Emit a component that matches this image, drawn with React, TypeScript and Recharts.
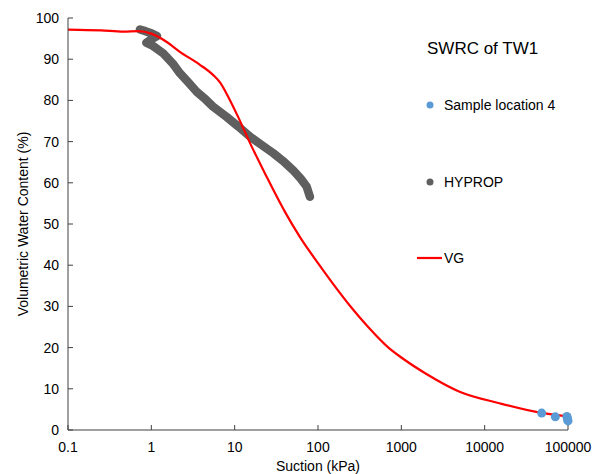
import { ComposedChart, Line, Scatter, XAxis, YAxis } from "recharts";

// suction (kPa) / volumetric water content (%)
const vgSuction = [
  0.1, 0.25, 0.46, 0.7, 1.0, 1.5, 2.2, 3.8, 5.5, 6.7, 8.5, 11, 15, 24, 40, 60,
  100, 150, 250, 400, 700, 1000, 2000, 5000, 15000, 46000, 100000,
];
const vgTheta = [
  97.2, 97.0, 96.7, 96.8, 96.2, 94.3, 91.8, 88.7, 86.2, 84.3, 80.6, 76.0, 70.0,
  61.6, 53.0, 47.0, 40.5, 35.6, 29.8, 25.0, 20.0, 17.6, 13.6, 9.3, 6.5, 4.2, 3.3,
];

const hypropSuction = [
  0.73, 0.85, 1.0, 1.17, 1.0, 0.87, 1.05, 1.39, 1.8, 2.2, 2.8, 3.5, 4.5, 5.5,
  8.0, 11, 15.3, 21, 29, 38, 50, 62, 73, 80,
];
const hypropTheta = [
  97.2, 96.8, 96.3, 95.6, 94.8, 94.0, 93.2, 91.4, 89.0, 86.6, 84.3, 82.1, 80.2,
  78.5, 76.0, 73.7, 71.2, 69.2, 67.2, 65.3, 63.1, 61.0, 59.1, 56.6,
];

const sampleSuction = [48300, 70500, 97000, 98000, 99000, 100000];
const sampleTheta = [4.1, 3.2, 3.3, 2.9, 2.5, 2.2];

const xTicks = [0.1, 1, 10, 100, 1000, 10000, 100000];
const yTicks = [0, 10, 20, 30, 40, 50, 60, 70, 80, 90, 100];

const FONT = "'Liberation Sans', Arial, sans-serif";
const AXIS = "#404040";
const RED = "#ff0000";
const GRAY = "#5f5f5f";
const BLUE = "#5b9bd5";

const zip = (xs: number[], ys: number[]) => xs.map((x, i) => ({ x, y: ys[i] }));

const vgData = zip(vgSuction, vgTheta);
const hypropData = zip(hypropSuction, hypropTheta);
const sampleData = zip(sampleSuction, sampleTheta);

function XTick({ x, y, payload }: any) {
  return (
    <g>
      <line x1={x} x2={x} y1={y} y2={y - 5} stroke={AXIS} />
      <text
        x={x}
        y={y + 17}
        textAnchor="middle"
        dominantBaseline="central"
        fontSize={14}
        fontFamily={FONT}
        fill="#000"
      >
        {payload.value}
      </text>
    </g>
  );
}

function YTick({ x, y, payload }: any) {
  return (
    <g>
      <line x1={x} x2={x + 5} y1={y} y2={y} stroke={AXIS} />
      <text
        x={x - 9}
        y={y}
        textAnchor="end"
        dominantBaseline="central"
        fontSize={14}
        fontFamily={FONT}
        fill="#000"
      >
        {payload.value}
      </text>
    </g>
  );
}

export default function App() {
  return (
    <div style={{ position: "absolute", left: 0, top: 0, width: 601, height: 474, background: "#fff" }}>
      <ComposedChart
        width={601}
        height={474}
        margin={{ top: 18, right: 33, left: 0, bottom: 0 }}
      >
        <XAxis
          type="number"
          dataKey="x"
          scale="log"
          domain={[0.1, 100000]}
          ticks={xTicks}
          tick={<XTick />}
          tickLine={false}
          tickSize={0}
          tickMargin={0}
          height={44}
          stroke={AXIS}
        />
        <YAxis
          type="number"
          dataKey="y"
          domain={[0, 100]}
          ticks={yTicks}
          tick={<YTick />}
          tickLine={false}
          tickSize={0}
          tickMargin={0}
          width={68}
          stroke={AXIS}
        />
        <Line
          data={hypropData}
          dataKey="y"
          type="linear"
          stroke={GRAY}
          strokeWidth={8.5}
          strokeLinecap="round"
          strokeLinejoin="round"
          dot={false}
          activeDot={false}
          isAnimationActive={false}
        />
        <Line
          data={vgData}
          dataKey="y"
          type="monotone"
          stroke={RED}
          strokeWidth={2.2}
          dot={false}
          activeDot={false}
          isAnimationActive={false}
        />
        <Scatter
          data={sampleData}
          dataKey="y"
          fill={BLUE}
          shape={(p: any) => <circle cx={p.cx} cy={p.cy} r={4.5} fill={BLUE} />}
          isAnimationActive={false}
        />
      </ComposedChart>
      <svg
        width={601}
        height={474}
        style={{ position: "absolute", left: 0, top: 0, pointerEvents: "none" }}
        fontFamily={FONT}
      >
        <text x={427} y={48} fontSize={17} dominantBaseline="central" fill="#000">
          SWRC of TW1
        </text>
        <circle cx={430} cy={105} r={3.5} fill={BLUE} />
        <text x={444} y={105} fontSize={14} dominantBaseline="central" fill="#000">
          Sample location 4
        </text>
        <circle cx={430} cy={182} r={3.5} fill={GRAY} />
        <text x={444} y={182} fontSize={14} dominantBaseline="central" fill="#000">
          HYPROP
        </text>
        <line x1={417} x2={442} y1={258} y2={258} stroke={RED} strokeWidth={2.2} />
        <text x={444} y={258} fontSize={14} dominantBaseline="central" fill="#000">
          VG
        </text>
        <text x={318} y={466} fontSize={14} textAnchor="middle" dominantBaseline="central" fill="#000">
          Suction (kPa)
        </text>
        <text
          x={23}
          y={224}
          fontSize={14}
          textAnchor="middle"
          dominantBaseline="central"
          fill="#000"
          transform="rotate(-90 23 224)"
        >
          Volumetric Water Content (%)
        </text>
      </svg>
    </div>
  );
}
